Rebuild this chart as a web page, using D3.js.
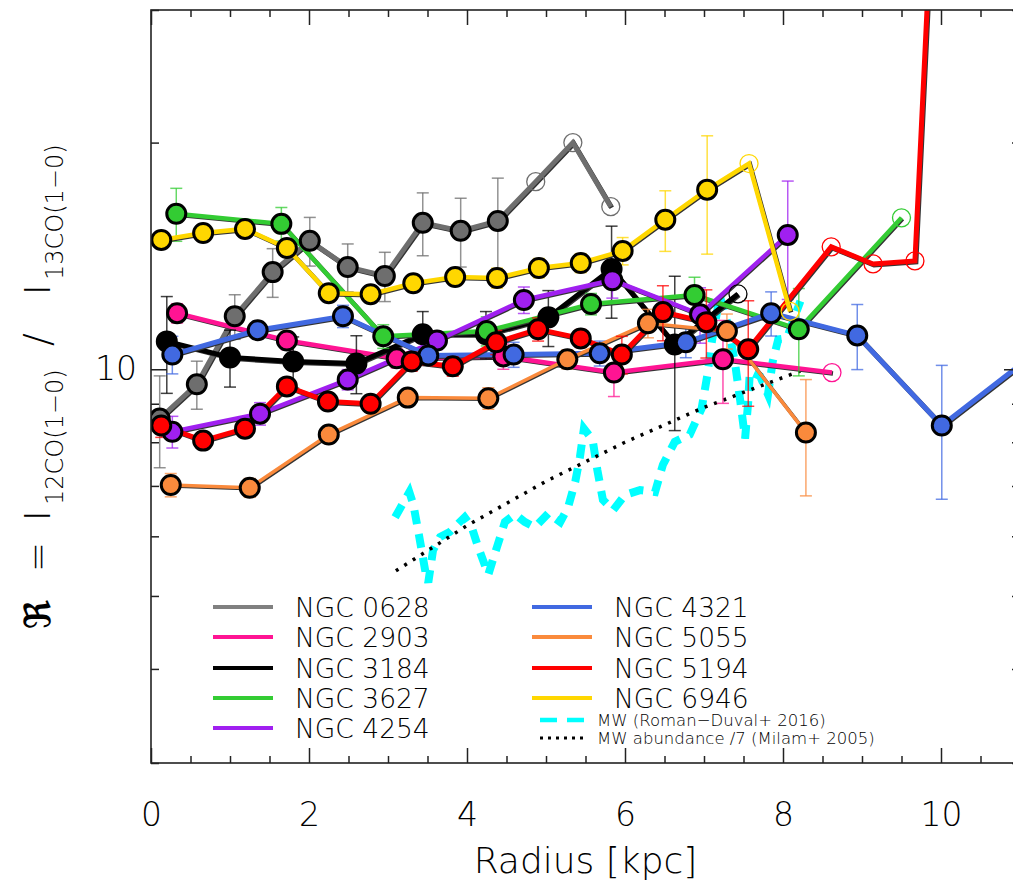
<!DOCTYPE html>
<html>
<head>
<meta charset="utf-8">
<script src="https://d3js.org/d3.v7.min.js"></script>
<style>
  body { margin: 0; background: #fff; }
  text { font-family: "DejaVu Sans", sans-serif; font-weight: 200; fill: #000; }
</style>
</head>
<body>
<div id="chart"></div>
<script>
var svgWidth = 1013;
var svgHeight = 888;

var plot = { left: 151, right: 1020, top: 10, bottom: 763 };

// ---- data (radius in kpc, line ratio) ----
var galaxyNames = ["NGC 0628", "NGC 2903", "NGC 3184", "NGC 3627", "NGC 4254",
                   "NGC 4321", "NGC 5055", "NGC 5194", "NGC 6946"];

var radius0628 = [0.11, 0.58, 1.06, 1.54, 2.01, 2.49, 2.96, 3.44, 3.92, 4.39, 4.87, 5.34, 5.82];
var ratio0628  = [8.60, 9.55, 11.76, 13.46, 14.81, 13.67, 13.30, 15.65, 15.27, 15.74, 17.75, 20.0, 16.44];
var err0628    = [1.2, 0.7, 0.8, 1.0, 1.1, 1.0, 1.0, 1.5, 1.6, 2.2, null, null, null];

var radius2903 = [0.33, 1.72, 3.11, 4.46, 5.86, 7.24, 8.62];
var ratio2903  = [11.87, 10.92, 10.34, 10.40, 9.90, 10.31, 9.90];
var err2903    = [0.35, 0.3, 0.3, 0.4, 0.7, 1.3, null];

var radius3184 = [0.20, 1.00, 1.80, 2.60, 3.44, 4.24, 5.03, 5.83, 6.63, 7.43];
var ratio3184  = [10.89, 10.37, 10.24, 10.18, 11.13, 11.13, 11.72, 13.59, 10.79, 12.59];
var err3184    = [1.6, 0.9, 0.8, 0.9, 0.8, 0.8, 1.0, 1.9, 2.5, null];

var radius3627 = [0.32, 1.65, 2.94, 4.25, 5.57, 6.88, 8.20, 9.50];
var ratio3627  = [16.09, 15.60, 11.06, 11.24, 12.21, 12.55, 11.30, 15.89];
var err3627    = [1.3, 0.8, 0.4, 0.5, 0.4, 0.7, 1.5, null];

var radius4254 = [0.27, 1.38, 2.49, 3.62, 4.72, 5.84, 6.95, 8.06];
var ratio4254  = [8.26, 8.73, 9.69, 10.92, 12.36, 13.13, 11.83, 15.08];
var err4254    = [0.4, 0.3, 0.3, 0.3, 0.5, 0.7, 1.0, 2.7];

var radius4321 = [0.27, 1.35, 2.43, 3.51, 4.59, 5.68, 6.77, 7.85, 8.94, 10.01, 11.10];
var ratio4321  = [10.46, 11.27, 11.76, 10.43, 10.46, 10.50, 10.86, 11.87, 11.09, 8.42, 10.32];
var err4321    = [0.6, 0.3, 0.4, 0.3, 0.4, 0.4, 0.5, 0.8, 1.1, 1.7, 1.5];

var radius5055 = [0.25, 1.25, 2.25, 3.25, 4.27, 5.27, 6.29, 7.29, 8.29];
var ratio5055  = [7.02, 6.96, 8.19, 9.17, 9.15, 10.31, 11.51, 11.24, 8.24];
var err5055    = [0.25, 0.2, 0.2, 0.2, 0.3, 0.3, 0.5, 0.6, 1.45];

var radius5194 = [0.13, 0.66, 1.19, 1.72, 2.24, 2.78, 3.30, 3.82, 4.37, 4.90, 5.44, 5.96, 6.48, 7.03, 7.56, 8.61, 9.14, 9.67, 10.20];
var ratio5194  = [8.42, 8.04, 8.34, 9.49, 9.06, 9.00, 10.24, 10.09, 10.86, 11.30, 10.99, 10.46, 11.91, 11.55, 10.63, 14.54, 13.80, 13.93, 200];
var err5194    = [0.3, 0.2, 0.2, 0.2, 0.2, 0.2, 0.3, 0.3, 0.4, 0.4, 0.3, 0.6, 1.0, 1.2, 1.7, null, null, null, null];

var radius6946 = [0.13, 0.66, 1.19, 1.72, 2.25, 2.78, 3.32, 3.85, 4.38, 4.91, 5.44, 5.97, 6.51, 7.04, 7.57, 8.09];
var ratio6946  = [14.85, 15.17, 15.36, 14.49, 12.62, 12.58, 13.01, 13.26, 13.22, 13.63, 13.84, 14.36, 15.80, 17.32, 18.76, 11.94];
var err6946    = [0.3, 0.3, 0.3, 0.3, 0.3, 0.3, 0.3, 0.3, 0.4, 0.4, 0.4, 0.6, 1.46, 3.1, null, null];

// number of filled (detected) points; the rest are open circles
var nFilled = [10, 6, 9, 7, 8, 11, 9, 15, 14];

// Milky Way comparison curves
var mwRadius = [3.09, 3.27, 3.32, 3.39, 3.47, 3.51, 3.57, 3.66, 3.78, 3.97, 4.06, 4.14, 4.27, 4.38, 4.48,
                4.61, 4.73, 4.86, 5.03, 5.18, 5.28, 5.37, 5.43, 5.48, 5.59, 5.65, 5.72, 5.85, 6.00, 6.19,
                6.38, 6.48, 6.63, 6.82, 6.97, 7.04, 7.10, 7.20, 7.29, 7.39, 7.46, 7.52, 7.56, 7.58, 7.71,
                7.81, 7.87, 7.94, 8.05, 8.15, 8.22];
var mwRatio  = [6.36, 6.87, 6.62, 6.04, 5.41, 5.21, 5.75, 5.99, 6.08, 6.36, 6.17, 5.81, 5.34, 5.81, 6.27,
                6.42, 6.27, 6.17, 6.44, 6.27, 6.56, 7.09, 7.65, 8.34, 8.06, 7.35, 6.71, 6.50, 6.81, 6.91,
                6.87, 7.47, 8.01, 8.19, 8.87, 9.79, 10.89, 12.51, 11.58, 10.24, 9.06, 8.09, 9.06, 9.93, 9.79,
                9.26, 10.24, 10.96, 11.0, 11.76, 12.32];

var milamRadius = [3.1, 4.0, 5.0, 6.0, 7.0, 8.22];
var milamRatio  = [5.40, 6.20, 7.10, 8.00, 8.90, 9.95];

// ---- styles ----
var galaxyColors = ["#6e6e6e", "#ff1493", "#000000", "#33cc33", "#a020f0",
                    "#4169e1", "#fa8a3c", "#ff0000", "#ffd700"];
var legendColors = ["#808080", "#ff1493", "#000000", "#33cc33", "#a020f0",
                    "#4169e1", "#fa8a3c", "#ff0000", "#ffd700"];
var lineWidths = [5, 4.5, 5, 4.5, 4.5, 5, 3.5, 5, 4.5];

var galaxyRadius = [radius0628, radius2903, radius3184, radius3627, radius4254, radius4321, radius5055, radius5194, radius6946];
var galaxyRatio  = [ratio0628, ratio2903, ratio3184, ratio3627, ratio4254, ratio4321, ratio5055, ratio5194, ratio6946];
var galaxyErr    = [err0628, err2903, err3184, err3627, err4254, err4321, err5055, err5194, err6946];

var galaxies = galaxyNames.map(function(name, i) {
  return {
    name: name,
    color: galaxyColors[i],
    width: lineWidths[i],
    points: galaxyRadius[i].map(function(r, j) {
      return { r: r, v: galaxyRatio[i][j], e: galaxyErr[i][j], filled: j < nFilled[i] };
    })
  };
});

var svg = d3.select("#chart")
  .append("svg")
  .attr("width", svgWidth)
  .attr("height", svgHeight);

var xScale = d3.scaleLinear().domain([0, 11]).range([plot.left, plot.right]);
var yScale = d3.scaleLog().domain([3, 30]).range([plot.bottom, plot.top]);

svg.append("clipPath")
  .attr("id", "plotClip")
  .append("rect")
  .attr("x", plot.left)
  .attr("y", plot.top)
  .attr("width", plot.right - plot.left)
  .attr("height", plot.bottom - plot.top);

var dataGroup = svg.append("g").attr("clip-path", "url(#plotClip)");

var line = d3.line()
  .x(d => xScale(d.r))
  .y(d => yScale(d.v));

// MW curves first (underneath)
var mwData = mwRadius.map((r, i) => ({ r: r, v: mwRatio[i] }));
var milamData = milamRadius.map((r, i) => ({ r: r, v: milamRatio[i] }));

dataGroup.append("path")
  .datum(mwData)
  .attr("d", line)
  .attr("fill", "none")
  .attr("stroke", "#00ffff")
  .attr("stroke-width", 8)
  .attr("stroke-dasharray", "14,10");

dataGroup.append("path")
  .datum(milamData)
  .attr("d", line)
  .attr("fill", "none")
  .attr("stroke", "#000")
  .attr("stroke-width", 3.5)
  .attr("stroke-dasharray", "3,7");

// error bars and lines for each galaxy
galaxies.forEach(function(g) {
  var bars = g.points.filter(p => p.e !== null && p.filled);
  var eb = dataGroup.append("g")
    .attr("stroke", g.color)
    .attr("stroke-opacity", 0.75)
    .attr("stroke-width", 1.5);
  bars.forEach(function(p) {
    var cx = xScale(p.r);
    var y1 = yScale(Math.max(p.v - p.e, 3.01));
    var y2 = yScale(p.v + p.e);
    eb.append("line").attr("x1", cx).attr("x2", cx).attr("y1", y1).attr("y2", y2);
    eb.append("line").attr("x1", cx - 6).attr("x2", cx + 6).attr("y1", y1).attr("y2", y1);
    eb.append("line").attr("x1", cx - 6).attr("x2", cx + 6).attr("y1", y2).attr("y2", y2);
  });

  dataGroup.append("path")
    .datum(g.points)
    .attr("d", line)
    .attr("fill", "none")
    .attr("stroke", "#333")
    .attr("stroke-width", g.width)
    .attr("stroke-linejoin", "miter")
    .attr("transform", "translate(1,1)");

  dataGroup.append("path")
    .datum(g.points)
    .attr("d", line)
    .attr("fill", "none")
    .attr("stroke", g.color)
    .attr("stroke-width", g.width)
    .attr("stroke-linejoin", "miter");
});

// points on top
galaxies.forEach(function(g) {
  dataGroup.selectAll(null)
    .data(g.points)
    .enter()
    .append("circle")
    .attr("cx", d => xScale(d.r))
    .attr("cy", d => yScale(d.v))
    .attr("r", d => d.filled ? 9.5 : 9)
    .attr("fill", d => d.filled ? g.color : "none")
    .attr("stroke", d => d.filled ? "#000" : g.color)
    .attr("stroke-width", d => d.filled ? 3 : 1.3);
});

// ---- axes ----
var xMajor = [0, 2, 4, 6, 8, 10];
var xMinor = d3.range(0, 11.01, 0.5).filter(v => xMajor.indexOf(v) < 0);
var yMajor = [10];
var yMinor = [3, 4, 5, 6, 7, 8, 9, 20, 30];

function styleAxis(g) {
  g.select(".domain").remove();
  g.selectAll(".tick line").attr("stroke", "#222").attr("stroke-width", 1.5);
  g.selectAll("text")
    .style("font-family", "'DejaVu Sans', sans-serif")
    .style("font-weight", 200)
    .attr("fill", "#000");
}

svg.append("g")
  .attr("transform", `translate(0, ${plot.bottom})`)
  .call(d3.axisBottom(xScale).tickValues(xMajor).tickSize(-15).tickPadding(40).tickFormat(d3.format("d")))
  .call(styleAxis)
  .selectAll("text").style("font-size", "33px");

svg.append("g")
  .attr("transform", `translate(0, ${plot.bottom})`)
  .call(d3.axisBottom(xScale).tickValues(xMinor).tickSize(-7).tickFormat(""))
  .call(styleAxis);

svg.append("g")
  .attr("transform", `translate(0, ${plot.top})`)
  .call(d3.axisTop(xScale).tickValues(xMajor).tickSize(-15).tickFormat(""))
  .call(styleAxis);

svg.append("g")
  .attr("transform", `translate(0, ${plot.top})`)
  .call(d3.axisTop(xScale).tickValues(xMinor).tickSize(-7).tickFormat(""))
  .call(styleAxis);

svg.append("g")
  .attr("transform", `translate(${plot.left}, 0)`)
  .call(d3.axisLeft(yScale).tickValues(yMajor).tickSize(-16).tickPadding(14).tickFormat(d3.format("d")))
  .call(styleAxis)
  .selectAll("text").style("font-size", "33px");

svg.append("g")
  .attr("transform", `translate(${plot.left}, 0)`)
  .call(d3.axisLeft(yScale).tickValues(yMinor).tickSize(-8).tickFormat(""))
  .call(styleAxis);

svg.append("g")
  .attr("transform", `translate(${plot.right}, 0)`)
  .call(d3.axisRight(yScale).tickValues(yMajor).tickSize(-16).tickFormat(""))
  .call(styleAxis);

svg.append("g")
  .attr("transform", `translate(${plot.right}, 0)`)
  .call(d3.axisRight(yScale).tickValues(yMinor).tickSize(-8).tickFormat(""))
  .call(styleAxis);

// frame
svg.append("rect")
  .attr("x", plot.left)
  .attr("y", plot.top)
  .attr("width", plot.right - plot.left)
  .attr("height", plot.bottom - plot.top)
  .attr("fill", "none")
  .attr("stroke", "#222")
  .attr("stroke-width", 1.6);

// x label
svg.append("text")
  .attr("x", (plot.left + plot.right) / 2)
  .attr("y", 873)
  .attr("text-anchor", "middle")
  .style("font-size", "36px")
  .text("Radius [kpc]");

// y label, pieces placed along the rotated baseline
var yLabel = svg.append("g").attr("transform", "translate(50, 0) rotate(-90)");
var yLabelParts = [
  { t: "\u211C", at: 629, size: 36, sub: false, bold: true },
  { t: "=", at: 572, size: 36, sub: false },
  { t: "I", at: 521, size: 36, sub: false },
  { t: "12CO(1\u22120)", at: 505, size: 24, sub: true },
  { t: "/", at: 346, size: 38, sub: false },
  { t: "I", at: 295, size: 36, sub: false },
  { t: "13CO(1\u22120)", at: 280, size: 24, sub: true }
];
yLabel.selectAll("text")
  .data(yLabelParts)
  .enter()
  .append("text")
  .attr("x", d => -d.at)
  .attr("y", d => d.sub ? 13 : 0)
  .style("font-size", d => d.size + "px")
  .style("font-weight", d => d.bold ? 700 : 200)
  .text(d => d.t);

// ---- legend ----
var legendRows = [607, 637, 668, 698, 728];
var legend = svg.append("g");
galaxyNames.forEach(function(name, i) {
  var col = i < 5 ? 0 : 1;
  var row = i < 5 ? i : i - 5;
  var x0 = col === 0 ? 213 : 532;
  var ly = legendRows[row];
  legend.append("line")
    .attr("x1", x0).attr("x2", x0 + 60)
    .attr("y1", ly).attr("y2", ly)
    .attr("stroke", legendColors[i])
    .attr("stroke-width", 4);
  legend.append("text")
    .attr("x", x0 + 82)
    .attr("y", ly + 9.5)
    .style("font-size", "26.5px")
    .text(name);
});

legend.append("line")
  .attr("x1", 540).attr("x2", 584)
  .attr("y1", 720).attr("y2", 720)
  .attr("stroke", "#00ffff")
  .attr("stroke-width", 4.5)
  .attr("stroke-dasharray", "17,10");
legend.append("text")
  .attr("x", 597).attr("y", 726)
  .style("font-size", "16.5px")
  .text("MW (Roman\u2212Duval+ 2016)");

legend.append("line")
  .attr("x1", 540).attr("x2", 584)
  .attr("y1", 738).attr("y2", 738)
  .attr("stroke", "#000")
  .attr("stroke-width", 3)
  .attr("stroke-dasharray", "3,5");
legend.append("text")
  .attr("x", 597).attr("y", 744)
  .style("font-size", "16.5px")
  .text("MW abundance /7 (Milam+ 2005)");
</script>
</body>
</html>
